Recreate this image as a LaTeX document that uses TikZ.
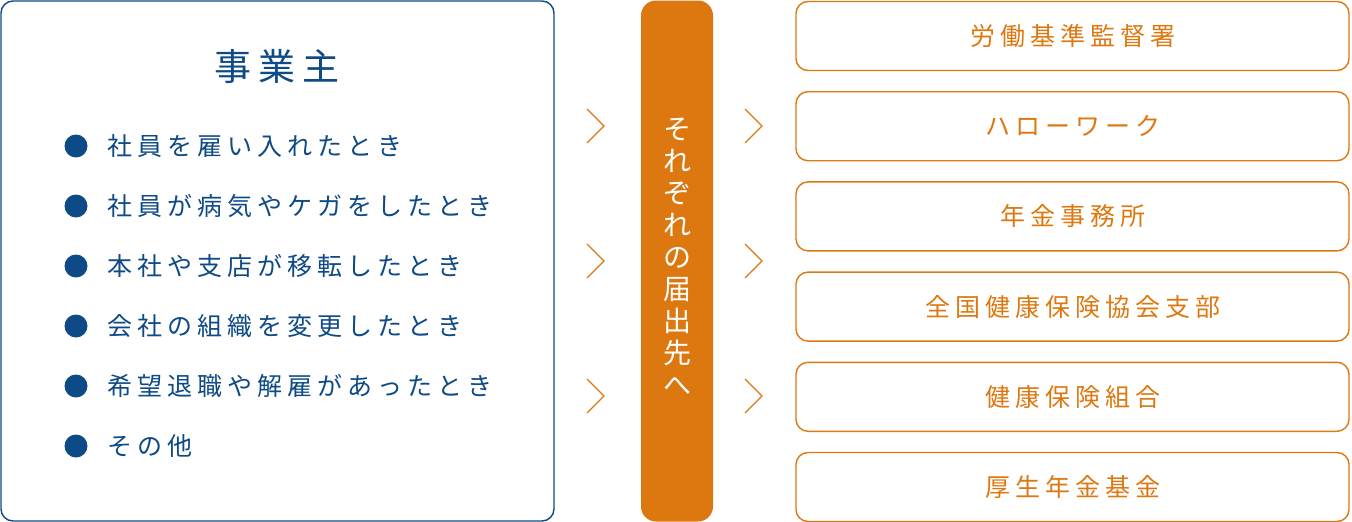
\documentclass[tikz,border=0pt]{standalone}
\usepackage{fontspec}
\newfontfamily\jpfont[LetterSpace=20]{Noto Sans CJK JP}
\newfontfamily\jpbarfont{Noto Sans CJK JP}
\usepackage{xcolor}
\definecolor{navy}{RGB}{13,74,134}
\definecolor{accent}{RGB}{221,120,17}
\usetikzlibrary{positioning}
\tikzset{
  ownerbox/.style={draw=navy,line width=1.4pt,rounded corners=12pt,fill=white,minimum width=553pt,minimum height=520pt,inner sep=0pt},
  officebox/.style={draw=accent,line width=1.4pt,rounded corners=12pt,minimum width=553pt,minimum height=69pt,inner sep=0pt,text=accent,font=\jpfont\fontsize{25}{25}\selectfont},
  itemtext/.style={anchor=west,inner sep=0pt,text=navy,font=\jpfont\fontsize{25}{25}\selectfont},
  bulletdot/.style={circle,fill=navy,minimum size=23pt,inner sep=0pt},
  chevron/.style={draw=accent,line width=1.3pt},
}
\begin{document}
\begin{tikzpicture}[x=1pt,y=-1pt]
\useasboundingbox (0,0) rectangle (1352,522);

%owner box
\node (owner) at (277.5,261) [ownerbox] {};
\node (title) at (277,66) [text=navy,font=\jpfont\fontsize{37}{37}\selectfont] {事業主};
\foreach \t [count=\i] in {社員を雇い入れたとき,社員が病気やケガをしたとき,本社や支店が移転したとき,会社の組織を変更したとき,希望退職や解雇があったとき,その他}{
  \node (dot\i) at (76,86+60*\i) [bulletdot] {};
  \node (item\i) at (107,86+60*\i) [itemtext] {\t};
}

%destination bar
\node (bar) at (677,261) [fill=accent,rounded corners=15pt,minimum width=72pt,minimum height=521pt,inner sep=0pt] {};
\node (bartext) at (677,257) [text=white,align=center,inner sep=0pt,font=\jpbarfont\fontsize{28}{32}\selectfont] {そ\\れ\\ぞ\\れ\\の\\届\\出\\先\\へ};

%chevrons
\foreach \y in {126,261,396}{
  \draw [chevron] (587,\y-17) -- (604,\y) -- (587,\y+17);
  \draw [chevron] (745,\y-17) -- (762,\y) -- (745,\y+17);
}

%offices
\foreach \t [count=\i] in {労働基準監督署,ハローワーク,年金事務所,全国健康保険協会支部,健康保険組合,厚生年金基金}{
  \node (office\i) at (1072.5,36+90.2*\i-90.2) [officebox] {\t};
}
\end{tikzpicture}
\end{document}
